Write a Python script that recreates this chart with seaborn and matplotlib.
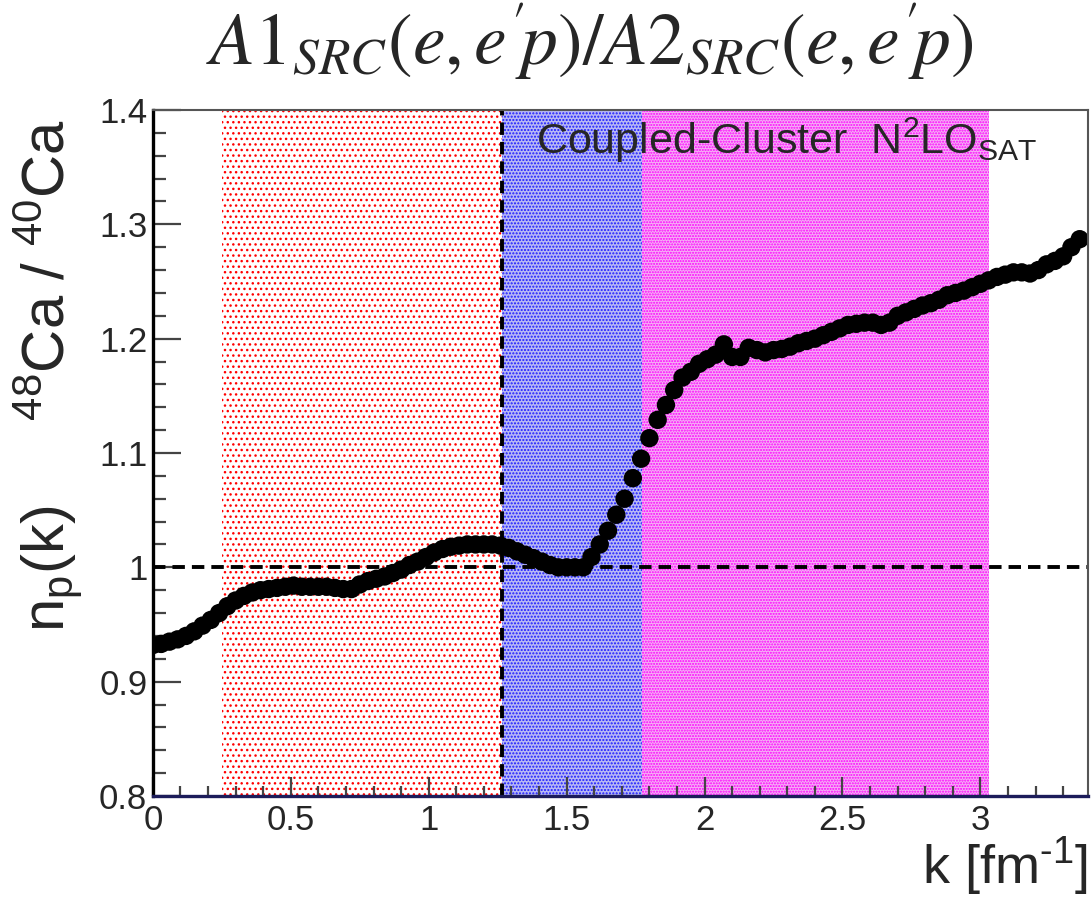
import numpy as np
import pandas as pd
import matplotlib
matplotlib.use("Agg")
import matplotlib.pyplot as plt
import seaborn as sns

# Momentum grid [fm^-1] and the 48Ca/40Ca proton momentum-distribution ratio
k_values = [
    0.00, 0.03, 0.06, 0.09, 0.12, 0.15, 0.18, 0.21, 0.24, 0.27,
    0.30, 0.33, 0.36, 0.39, 0.42, 0.45, 0.48, 0.51, 0.54, 0.57,
    0.60, 0.63, 0.66, 0.69, 0.72, 0.75, 0.78, 0.81, 0.84, 0.87,
    0.90, 0.93, 0.96, 0.99, 1.02, 1.05, 1.08, 1.11, 1.14, 1.17,
    1.20, 1.23, 1.26, 1.29, 1.32, 1.35, 1.38, 1.41, 1.44, 1.47,
    1.50, 1.53, 1.56, 1.59, 1.62, 1.65, 1.68, 1.71, 1.74, 1.77,
    1.80, 1.83, 1.86, 1.89, 1.92, 1.95, 1.98, 2.01, 2.04, 2.07,
    2.10, 2.13, 2.16, 2.19, 2.22, 2.25, 2.28, 2.31, 2.34, 2.37,
    2.40, 2.43, 2.46, 2.49, 2.52, 2.55, 2.58, 2.61, 2.64, 2.67,
    2.70, 2.73, 2.76, 2.79, 2.82, 2.85, 2.88, 2.91, 2.94, 2.97,
    3.00, 3.03, 3.06, 3.09, 3.12, 3.15, 3.18, 3.21, 3.24, 3.27,
    3.30, 3.33, 3.36,
]
ratio_values = [
    0.932, 0.933, 0.935, 0.937, 0.940, 0.944, 0.949, 0.954, 0.960, 0.966,
    0.971, 0.975, 0.978, 0.980, 0.981, 0.982, 0.983, 0.984, 0.983, 0.983,
    0.983, 0.983, 0.982, 0.981, 0.981, 0.985, 0.988, 0.990, 0.992, 0.995,
    0.998, 1.002, 1.005, 1.009, 1.013, 1.016, 1.018, 1.019, 1.020, 1.020,
    1.020, 1.020, 1.019, 1.017, 1.014, 1.011, 1.008, 1.005, 1.002, 1.000,
    1.000, 1.000, 1.000, 1.009, 1.020, 1.032, 1.046, 1.060, 1.078, 1.095,
    1.113, 1.129, 1.142, 1.155, 1.166, 1.171, 1.178, 1.182, 1.186, 1.195,
    1.184, 1.184, 1.192, 1.190, 1.188, 1.190, 1.191, 1.193, 1.196, 1.198,
    1.200, 1.203, 1.206, 1.209, 1.212, 1.213, 1.214, 1.214, 1.212, 1.214,
    1.220, 1.223, 1.226, 1.229, 1.231, 1.234, 1.238, 1.240, 1.242, 1.245,
    1.248, 1.251, 1.254, 1.256, 1.258, 1.258, 1.257, 1.260, 1.265, 1.268,
    1.272, 1.280, 1.287,
]

# Shaded momentum bands: (start, end, colour)
band_starts = [0.25, 1.265, 1.775]
band_ends = [1.265, 1.775, 3.03]
band_colors = ["#ff0000", "#1a1aff", "#ff00ff"]
band_fills = ["#ffffff", "#b8b8f4", "#f4b0f4"]
band_hatches = ["...", ".....", "......"]

divider_k = 1.265

x_ticks = [0, 0.5, 1, 1.5, 2, 2.5, 3]
x_tick_labels = ["0", "0.5", "1", "1.5", "2", "2.5", "3"]
y_ticks = [0.8, 0.9, 1.0, 1.1, 1.2, 1.3, 1.4]
y_tick_labels = ["0.8", "0.9", "1", "1.1", "1.2", "1.3", "1.4"]

df = pd.DataFrame({"k": k_values, "ratio": ratio_values})

sns.set_style("white")
plt.rcParams["font.family"] = ["Liberation Sans", "DejaVu Sans"]
plt.rcParams["mathtext.fontset"] = "custom"
plt.rcParams["mathtext.rm"] = "Liberation Sans"
plt.rcParams["mathtext.it"] = "Liberation Sans:italic"
plt.rcParams["hatch.linewidth"] = 1.0

fig = plt.figure(figsize=(10.92, 8.98), dpi=100)
ax = fig.add_axes([0.140, 0.1136, 0.8563, 0.7639])

for x0, x1, c, fc, h in zip(band_starts, band_ends, band_colors, band_fills, band_hatches):
    ax.axvspan(x0, x1, facecolor=fc, edgecolor=c, hatch=h, linewidth=0, zorder=0)

ax.axhline(1.0, color="black", lw=2.8, dashes=(3.2, 1.8), zorder=2)
ax.axvline(divider_k, color="black", lw=2.8, dashes=(3.2, 1.8), zorder=2)

sns.scatterplot(data=df, x="k", y="ratio", ax=ax, color="black", s=175,
                edgecolor="none", linewidth=0, zorder=3, legend=False)

ax.set_xlim(0, 3.39)
ax.set_ylim(0.8, 1.4)
ax.set_xticks(x_ticks)
ax.set_xticklabels(x_tick_labels)
ax.set_yticks(y_ticks)
ax.set_yticklabels(y_tick_labels)
ax.set_xticks(np.arange(0, 3.39, 0.1), minor=True)
ax.set_yticks(np.arange(0.8, 1.4001, 0.02), minor=True)

ax.tick_params(axis="both", which="both", bottom=True, left=True,
               top=False, right=False)
ax.tick_params(axis="x", which="major", direction="in", length=14, width=1.6,
               color="#444444", labelsize=25, pad=6)
ax.tick_params(axis="x", which="minor", direction="in", length=7, width=1.6,
               color="#444444")
ax.tick_params(axis="y", which="major", direction="in", length=20, width=1.6,
               color="#444444", labelsize=25, pad=4)
ax.tick_params(axis="y", which="minor", direction="in", length=9, width=1.6,
               color="#444444")

for side in ["top", "right"]:
    ax.spines[side].set_color("#555555")
    ax.spines[side].set_linewidth(1.5)
ax.spines["left"].set_color("black")
ax.spines["left"].set_linewidth(2.4)
ax.spines["bottom"].set_color("#1c1c5a")
ax.spines["bottom"].set_linewidth(2.4)
for s in ax.spines.values():
    s.set_zorder(4)

ax.set_xlabel("")
ax.set_ylabel("")

fig.text(0.044, 0.582, r"n$_{\mathrm{p}}$(k)     $^{48}$Ca / $^{40}$Ca",
         rotation=90, ha="center", va="center", fontsize=43)
fig.text(0.996, 0.0, r"k [fm$^{\text{-1}}$]", ha="right", va="bottom",
         fontsize=39)

ax.text(0.41, 0.956, r"Coupled-Cluster  N$^{2}$LO$_{\mathrm{SAT}}$",
        transform=ax.transAxes, ha="left", va="center", fontsize=31, zorder=5)

fig.text(0.54, 0.953,
         r"$A\mathit{1}_{SRC}(e,e^{\prime}\!p)/A\mathit{2}_{SRC}(e,e^{\prime}\!p)$",
         ha="center", va="center", fontsize=53, math_fontfamily="stix")

fig.savefig("out.png", dpi=100)
